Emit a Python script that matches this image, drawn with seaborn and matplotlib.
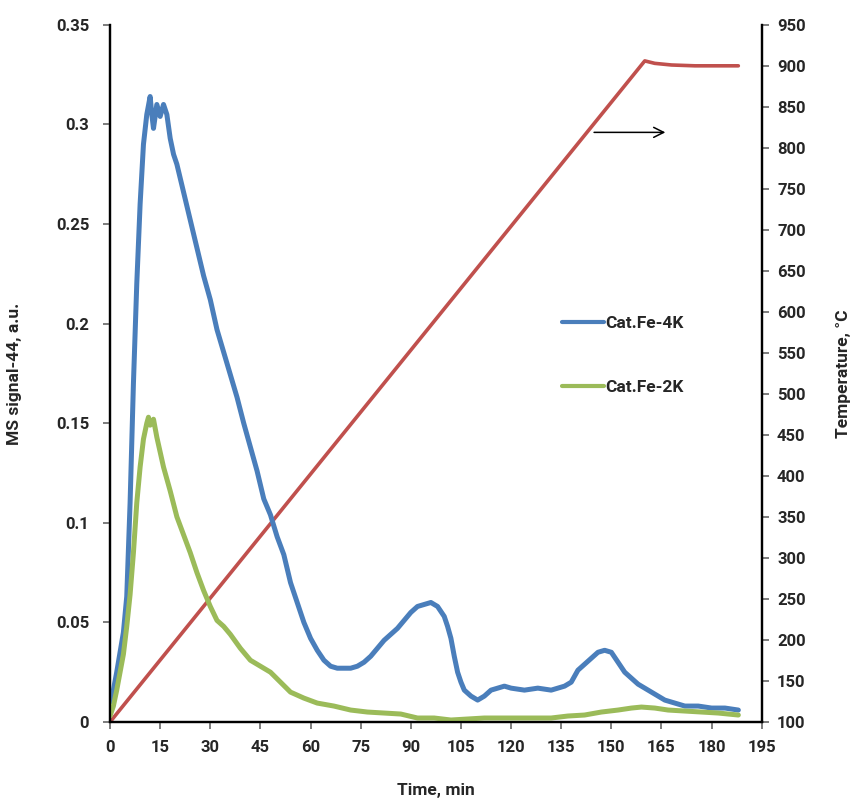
import matplotlib
matplotlib.use("Agg")
import matplotlib.pyplot as plt
import seaborn as sns
import pandas as pd

# ---- data ----
time_4k = [0, 1, 2, 3, 4, 5, 6, 7, 8, 9, 10, 11, 12, 12.5, 13, 14, 15, 16, 17, 18, 19, 20,
           22, 24, 26, 28, 30, 32, 35, 38, 40, 42, 44, 46, 48, 50, 52, 54, 56, 58, 60, 62,
           64, 66, 68, 70, 72, 74, 76, 78, 80, 82, 84, 86, 88, 90, 92, 94, 96, 98, 100,
           101, 102, 103, 104, 105, 106, 108, 110, 112, 114, 116, 118, 120, 124, 128, 132,
           136, 138, 140, 142, 144, 146, 148, 150, 152, 154, 156, 158, 160, 162, 164, 166,
           168, 170, 172, 176, 180, 184, 188]
signal_4k = [0.010, 0.016, 0.025, 0.035, 0.045, 0.063, 0.11, 0.17, 0.22, 0.26, 0.29, 0.305,
             0.314, 0.305, 0.298, 0.310, 0.304, 0.310, 0.305, 0.293, 0.285, 0.280,
             0.266, 0.252, 0.238, 0.224, 0.212, 0.197, 0.180, 0.163, 0.150, 0.138, 0.126,
             0.112, 0.104, 0.093, 0.084, 0.070, 0.060, 0.050, 0.042, 0.036,
             0.031, 0.028, 0.027, 0.027, 0.027, 0.028, 0.030, 0.033, 0.037, 0.041, 0.044,
             0.047, 0.051, 0.055, 0.058, 0.059, 0.060, 0.058, 0.053,
             0.048, 0.042, 0.033, 0.025, 0.020, 0.016, 0.013, 0.011, 0.013, 0.016, 0.017,
             0.018, 0.017, 0.016, 0.017, 0.016,
             0.018, 0.020, 0.026, 0.029, 0.032, 0.035, 0.036, 0.035, 0.030, 0.025, 0.022,
             0.019, 0.017, 0.015, 0.013, 0.011,
             0.010, 0.009, 0.008, 0.008, 0.007, 0.007, 0.006]

time_2k = [0, 1, 2, 3, 4, 5, 6, 7, 8, 9, 10, 11, 11.5, 12, 13, 14, 16, 18, 20, 22, 24, 26,
           28, 30, 32, 34, 36, 39, 42, 45, 48, 51, 54, 58, 62, 67, 72, 77, 82, 87, 92, 97,
           102, 107, 112, 117, 122, 127, 132, 137, 142, 147, 152, 156, 159, 163, 167, 172,
           177, 182, 188]
signal_2k = [0.003, 0.008, 0.016, 0.025, 0.034, 0.048, 0.064, 0.085, 0.110, 0.128, 0.142,
             0.150, 0.153, 0.149, 0.152, 0.143, 0.128, 0.116, 0.103, 0.094, 0.085, 0.075,
             0.066, 0.058, 0.051, 0.048, 0.044, 0.037, 0.031, 0.028, 0.025, 0.020, 0.015,
             0.012, 0.0095, 0.008, 0.006, 0.005, 0.0045, 0.004, 0.002, 0.002,
             0.001, 0.0015, 0.002, 0.002, 0.002, 0.002, 0.002, 0.003, 0.0035, 0.005, 0.006,
             0.007, 0.0075, 0.007, 0.006, 0.0055, 0.005, 0.0045, 0.0035]

time_temp = [0, 160, 163, 168, 175, 188]
temperature = [100, 906, 903, 901, 900, 900]

x_ticks = list(range(0, 196, 15))
y_left_ticks = [0, 0.05, 0.1, 0.15, 0.2, 0.25, 0.3, 0.35]
y_left_labels = ["0", "0.05", "0.1", "0.15", "0.2", "0.25", "0.3", "0.35"]
y_right_ticks = list(range(100, 951, 50))

df4 = pd.DataFrame({"t": time_4k, "v": signal_4k})
df2 = pd.DataFrame({"t": time_2k, "v": signal_2k})
dft = pd.DataFrame({"t": time_temp, "T": temperature})

sns.set_style("white")
plt.rcParams["font.family"] = ["Roboto", "DejaVu Sans"]

BLUE = "#4A7EBB"
GREEN = "#9BBB59"
RED = "#C0504D"

fig = plt.figure(figsize=(8.53, 8.0), dpi=100)
ax = fig.add_axes([0.129, 0.0975, 0.764, 0.8715])
ax2 = ax.twinx()

sns.lineplot(data=df4, x="t", y="v", ax=ax, color=BLUE, lw=3.6, label="Cat.Fe-4K")
sns.lineplot(data=df2, x="t", y="v", ax=ax, color=GREEN, lw=3.6, label="Cat.Fe-2K")
sns.lineplot(data=dft, x="t", y="T", ax=ax2, color=RED, lw=2.6, legend=False)

ax.set_xlim(0, 195)
ax.set_ylim(0, 0.35)
ax2.set_ylim(100, 950)
ax.set_xticks(x_ticks)
ax.set_yticks(y_left_ticks)
ax.set_yticklabels(y_left_labels)
ax2.set_yticks(y_right_ticks)

for a in (ax, ax2):
    a.tick_params(axis="both", direction="out", length=5, width=1.2, color="#666666",
                  labelsize=12, pad=6)
    for lab in a.get_xticklabels() + a.get_yticklabels():
        lab.set_fontweight("bold")
    a.spines["top"].set_visible(False)
    for s in ("left", "right", "bottom"):
        a.spines[s].set_color("black")
        a.spines[s].set_linewidth(1.6)
ax.tick_params(axis="y", pad=10)
ax.tick_params(axis="x", pad=8)
ax.tick_params(axis="y", left=True, right=False)
ax2.tick_params(axis="y", right=True, left=False)
ax.tick_params(axis="x", bottom=True)

ax.set_xlabel("Time, min", fontsize=12.5, fontweight="bold", labelpad=20)
ax.set_ylabel("MS signal-44, a.u.", fontsize=12.5, fontweight="bold", labelpad=24)
ax2.set_ylabel("Temperature, °C", fontsize=12.5, fontweight="bold", labelpad=22)

ax.annotate("", xy=(167, 0.296), xytext=(144, 0.296),
            arrowprops=dict(arrowstyle="->", color="black", lw=1.1, mutation_scale=18))

leg = ax.legend(loc="upper left", bbox_to_anchor=(0.67, 0.605), frameon=False,
                fontsize=12.5, handlelength=2.4, handletextpad=0.1, labelspacing=2.8)
for t in leg.get_texts():
    t.set_fontweight("bold")
for h in leg.get_lines():
    h.set_linewidth(3)

ax.set_zorder(ax2.get_zorder() + 1)
ax.patch.set_visible(False)

fig.savefig("out.png", dpi=100)
